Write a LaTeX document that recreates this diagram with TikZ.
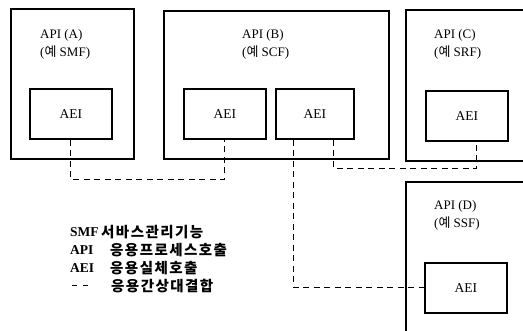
\documentclass[tikz,border=0pt]{standalone}
\usepackage{fontspec}
\setmainfont{Liberation Serif}
\newfontfamily\krfont{Noto Sans CJK KR}
\newfontfamily\krlegend[LetterSpace=10]{Noto Sans CJK KR}
\begin{document}
\begin{tikzpicture}[x=1pt,y=-1pt,
  apibox/.style={draw, line width=1.8pt, anchor=north west, inner sep=0pt},
  aeibox/.style={draw, line width=1.5pt, anchor=north west, inner sep=0pt,
     minimum width=82pt, minimum height=50pt, font=\fontsize{13.5}{15}\selectfont},
  title/.style={anchor=west, inner sep=0pt, font=\fontsize{13}{15}\selectfont},
  conn/.style={dashed, dash pattern=on 6pt off 4.5pt, line width=0.9pt},
  leg/.style={anchor=west, inner sep=0pt, font=\fontsize{13.5}{15}\selectfont\bfseries},
  legk/.style={anchor=west, inner sep=0pt, font=\fontsize{14.5}{16}\selectfont\krlegend\bfseries}]
\useasboundingbox (0,0) rectangle (523,330);
\clip (0,0) rectangle (523,330);
% API boxes
\node[apibox, minimum width=123pt, minimum height=150pt] (pa) at (10,8) {};
\node[apibox, minimum width=225pt, minimum height=148pt] (pb) at (163,10) {};
\node[apibox, minimum width=140pt, minimum height=151pt] (pc) at (405,9) {};
\node[apibox, minimum width=140pt, minimum height=170pt] (pd) at (405,181) {};
% titles
\node[title] (ta1) at (40,35) {API (A)};
\node[title] (ta2) at (40,53) {({\krfont 예} SMF)};
\node[title] (tb1) at (242,35) {API (B)};
\node[title] (tb2) at (242,53) {({\krfont 예} SCF)};
\node[title] (tc1) at (434,35) {API (C)};
\node[title] (tc2) at (434,53) {({\krfont 예} SRF)};
\node[title] (td1) at (434,206) {API (D)};
\node[title] (td2) at (434,224) {({\krfont 예} SSF)};
% AEI boxes
\node[aeibox] (a1) at (29,88) {AEI};
\node[aeibox] (b1) at (183,88) {AEI};
\node[aeibox, minimum width=78pt] (b2) at (275,88) {AEI};
\node[aeibox] (c1) at (425,90) {AEI};
\node[aeibox] (d1) at (424,262) {AEI};
% connectors
\coordinate (j1) at (0,179);
\draw[conn] (a1.south) -- (a1.south |- j1) -| (b1.south);
\draw[conn] ([xshift=-21pt]b2.south) |- (d1.west);
\coordinate (j2) at (0,168);
\draw[conn] ([xshift=19pt]b2.south) -- ([xshift=19pt]b2.south |- j2) -| ([xshift=10pt]c1.south);
% legend
\node[leg] (l1) at (70,232) {SMF};
\node[legk] (k1) at (101,232) {서바스관리기능};
\node[leg] (l2) at (70,250) {API};
\node[legk] (k2) at (110,250) {응용프로세스호출};
\node[leg] (l3) at (70,268) {AEI};
\node[legk] (k3) at (110,268) {응용실체호출};
\coordinate (m1) at (72,285);
\coordinate (m2) at (88,285);
\draw[conn, dash pattern=on 5pt off 6pt] (m1) -- (m2);
\node[legk] (k4) at (111,286) {응용간상대결합};
\end{tikzpicture}
\end{document}
